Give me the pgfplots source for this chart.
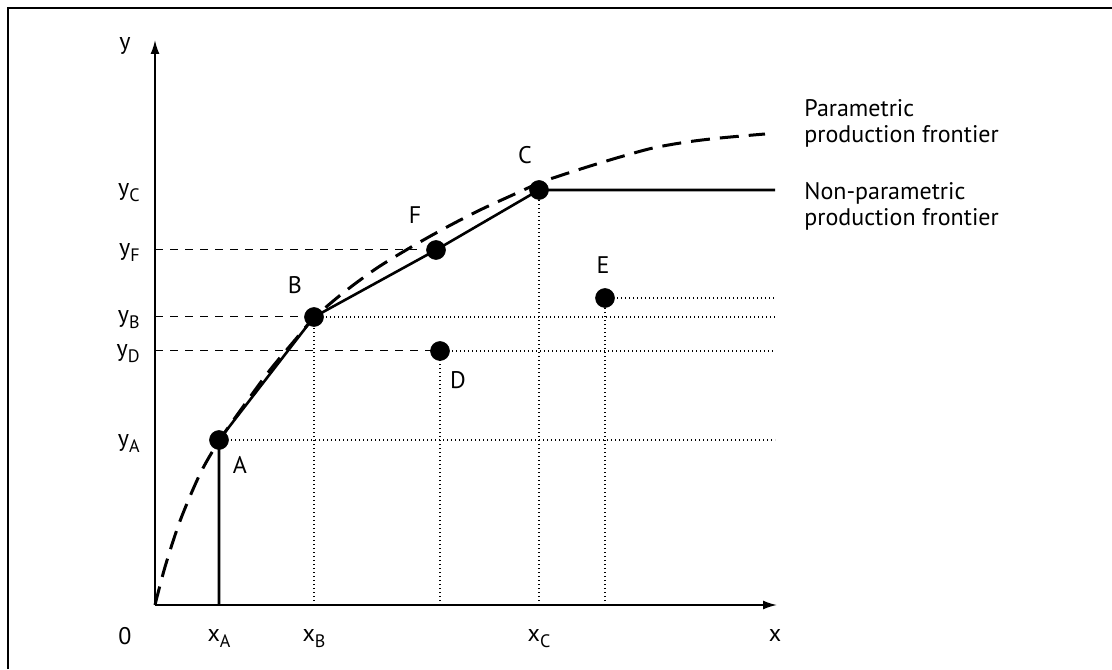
\documentclass[border=0pt]{standalone}
\usepackage{pgfplots}
\pgfplotsset{compat=1.18}
\usetikzlibrary{arrows.meta}
\usepackage{fontspec}
\setmainfont{PT Sans}
\newcommand{\sub}[2]{#1\raisebox{-0.5ex}{\fontsize{9}{9}\selectfont #2}}
\begin{document}
\fontsize{12}{14}\selectfont
\begin{tikzpicture}[lbl/.style={inner sep=0pt}]
\begin{axis}[
    width=311pt, height=282.5pt, scale only axis,
    xmin=0, xmax=622, ymin=0, ymax=565,
    axis x line=bottom, axis y line=left,
    ticks=none, clip=false,
    axis line style={line width=0.9pt, -{Latex[length=7pt,width=4.5pt]}},
    dashref/.style={line width=0.5pt, dash pattern=on 4pt off 3.5pt},
    dotref/.style={line width=0.6pt, dash pattern=on 0.6pt off 1.4pt},
]
% frame (top and left only)
\draw[line width=1pt] (axis cs:-147,-64) -- (axis cs:-147,597) -- (axis cs:957,597);
\coordinate (bbl) at (axis cs:-155,-64);
\coordinate (btr) at (axis cs:957,605);

% dashed reference lines to the y axis
\addplot[dashref] coordinates {(0,355) (262,355)};
\addplot[dashref] coordinates {(0,288) (159,288)};
\addplot[dashref] coordinates {(0,254) (285,254)};

% dotted guide lines
\addplot[dotref] coordinates {(64,165) (620,165)};
\addplot[dotref] coordinates {(159,288) (620,288)};
\addplot[dotref] coordinates {(285,254) (620,254)};
\addplot[dotref] coordinates {(450,307) (620,307)};
\addplot[dotref] coordinates {(159,0) (159,288)};
\addplot[dotref] coordinates {(285,0) (285,254)};
\addplot[dotref] coordinates {(384,0) (384,415)};
\addplot[dotref] coordinates {(450,0) (450,307)};

% parametric production frontier
\addplot[line width=1.5pt, dash pattern=on 9.5pt off 5pt, smooth, tension=0.5] coordinates {
    (0,0) (10,38) (25,84) (45,131) (64,164) (90,201) (115,235) (140,265)
    (159,287) (188,312) (222,337) (258,359) (292,378) (325,395) (362,412)
    (384,422) (398,427) (432,438) (465,448) (498,457) (532,463) (565,467) (610,471)
};

% non-parametric production frontier
\addplot[line width=1.3pt] coordinates {
    (64,0) (64,165) (159,288) (281,355) (384,415) (620,415)
};

% observations
\addplot[only marks, mark=*, mark size=4.7pt] coordinates {
    (64,165) (159,288) (281,355) (384,415) (285,254) (450,307)
};

% point labels
\node at (axis cs:85,140) {A};
\node at (axis cs:140,320) {B};
\node at (axis cs:260,390) {F};
\node at (axis cs:370,450) {C};
\node at (axis cs:303,225) {D};
\node at (axis cs:448,340) {E};

% axis labels
\node[lbl, anchor=base] at (axis cs:-30,555) {y};
\node[lbl, anchor=base] at (axis cs:620,-36) {x};
\node[lbl, anchor=base] at (axis cs:-30,-39) {0};
\node[lbl, anchor=base] at (axis cs:64,-36) {\sub{x}{A}};
\node[lbl, anchor=base] at (axis cs:159,-36) {\sub{x}{B}};
\node[lbl, anchor=base] at (axis cs:384,-36) {\sub{x}{C}};
\node[lbl, anchor=base east] at (axis cs:-15,409) {\sub{y}{C}};
\node[lbl, anchor=base east] at (axis cs:-15,349) {\sub{y}{F}};
\node[lbl, anchor=base east] at (axis cs:-15,282) {\sub{y}{B}};
\node[lbl, anchor=base east] at (axis cs:-15,248) {\sub{y}{D}};
\node[lbl, anchor=base east] at (axis cs:-15,159) {\sub{y}{A}};

% frontier labels
\node[lbl, anchor=base west] at (axis cs:649,488) {Parametric};
\node[lbl, anchor=base west] at (axis cs:649,462) {production frontier};
\node[lbl, anchor=base west] at (axis cs:649,405) {Non-parametric};
\node[lbl, anchor=base west] at (axis cs:649,379) {production frontier};
\end{axis}
\pgfresetboundingbox
\path (bbl) rectangle (btr);
\end{tikzpicture}
\end{document}
